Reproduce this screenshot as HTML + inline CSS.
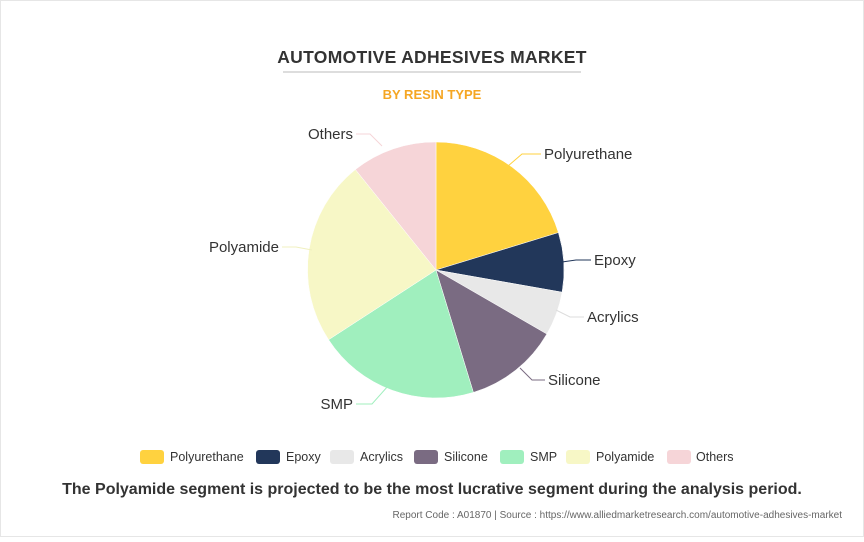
<!DOCTYPE html>
<html><head><meta charset="utf-8"><style>
body{margin:0;background:#fff;}
svg text{font-family:"Liberation Sans",sans-serif;}
</style></head><body>
<svg width="864" height="537" viewBox="0 0 864 537" xmlns="http://www.w3.org/2000/svg">
<rect x="0.5" y="0.5" width="863" height="536" fill="#fff" stroke="#e6e6e6"/>
<text x="432" y="63" text-anchor="middle" font-size="17.5" font-weight="bold" fill="#333" letter-spacing="0.3">AUTOMOTIVE ADHESIVES MARKET</text>
<line x1="283" y1="72" x2="581" y2="72" stroke="#bbb" stroke-width="1"/>
<text x="432" y="99" text-anchor="middle" font-size="13" font-weight="bold" fill="#F5A623">BY RESIN TYPE</text>
<g stroke="#fff" stroke-width="0.5">
<path d="M436,270 L436,142 A128,128 0 0 1 558.4,232.6 Z" fill="#FFD23F"/>
<path d="M436,270 L558.4,232.6 A128,128 0 0 1 562.1,292.2 Z" fill="#22375A"/>
<path d="M436,270 L562.1,292.2 A128,128 0 0 1 546.8,334 Z" fill="#E8E8E8"/>
<path d="M436,270 L546.8,334 A128,128 0 0 1 473.4,392.4 Z" fill="#7A6B82"/>
<path d="M436,270 L473.4,392.4 A128,128 0 0 1 328.6,339.7 Z" fill="#A0EFBE"/>
<path d="M436,270 L328.6,339.7 A128,128 0 0 1 355.4,169.5 Z" fill="#F7F7C6"/>
<path d="M436,270 L355.4,169.5 A128,128 0 0 1 436,142 Z" fill="#F6D5D8"/>
</g>
<g fill="none" stroke-width="1">
<polyline points="508,166 522,154 541,154" stroke="#FFD23F"/>
<polyline points="562,262 576,260 591,260" stroke="#22375A"/>
<polyline points="556,310 570,317 584,317" stroke="#ddd"/>
<polyline points="520,368 532,380 545,380" stroke="#7A6B82"/>
<polyline points="388,386 372,404 356,404" stroke="#A0EFBE"/>
<polyline points="312,250 296,247 282,247" stroke="#F0F0C0"/>
<polyline points="382,146 370,134 356,134" stroke="#F6D5D8"/>
</g>
<g font-size="15" fill="#333">
<text x="544" y="159">Polyurethane</text>
<text x="594" y="265">Epoxy</text>
<text x="587" y="322">Acrylics</text>
<text x="548" y="385">Silicone</text>
<text x="353" y="409" text-anchor="end">SMP</text>
<text x="279" y="252" text-anchor="end">Polyamide</text>
<text x="353" y="139" text-anchor="end">Others</text>
</g>
<g font-size="12.5" fill="#333">
<rect x="140" y="450" width="24" height="14" rx="3" fill="#FFD23F"/><text x="170" y="461">Polyurethane</text>
<rect x="256" y="450" width="24" height="14" rx="3" fill="#22375A"/><text x="286" y="461">Epoxy</text>
<rect x="330" y="450" width="24" height="14" rx="3" fill="#E8E8E8"/><text x="360" y="461">Acrylics</text>
<rect x="414" y="450" width="24" height="14" rx="3" fill="#7A6B82"/><text x="444" y="461">Silicone</text>
<rect x="500" y="450" width="24" height="14" rx="3" fill="#A0EFBE"/><text x="530" y="461">SMP</text>
<rect x="566" y="450" width="24" height="14" rx="3" fill="#F7F7C6"/><text x="596" y="461">Polyamide</text>
<rect x="667" y="450" width="24" height="14" rx="3" fill="#F6D5D8"/><text x="696" y="461">Others</text>
</g>
<text x="432" y="494" text-anchor="middle" font-size="16" font-weight="bold" fill="#333">The Polyamide segment is projected to be the most lucrative segment during the analysis period.</text>
<text x="842" y="518" text-anchor="end" font-size="10" fill="#666">Report Code : A01870  |  Source : https://www.alliedmarketresearch.com/automotive-adhesives-market</text>
</svg>
</body></html>
